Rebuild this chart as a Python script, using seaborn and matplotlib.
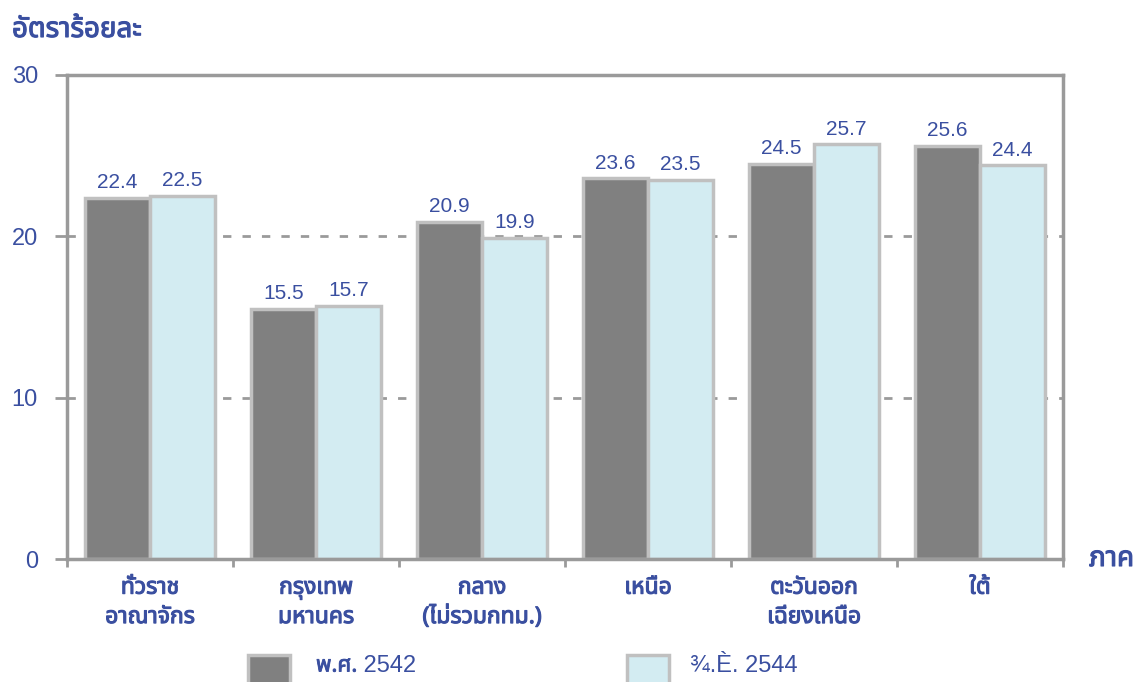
import numpy as np
import pandas as pd
import matplotlib
matplotlib.use("Agg")
import matplotlib.pyplot as plt
import matplotlib.patheffects as pe
import seaborn as sns
from matplotlib import font_manager
from matplotlib.patches import Rectangle
from matplotlib.ticker import FixedLocator

# ---------------- data ----------------
categories = ["ทั่วราช\nอาณาจักร", "กรุงเทพ\nมหานคร", "กลาง\n(ไม่รวมกทม.)",
              "เหนือ", "ตะวันออก\nเฉียงเหนือ", "ใต้"]
series_names = ["พ.ศ. 2542", "¾.È. 2544"]
values_2542 = [22.4, 15.5, 20.9, 23.6, 24.5, 25.6]
values_2544 = [22.5, 15.7, 19.9, 23.5, 25.7, 24.4]
yticks = [0, 10, 20, 30]
y_title = "อัตราร้อยละ"
x_title = "ภาค"

# ---------------- fonts ----------------
def find_thai_font():
    try:
        from fontTools.ttLib import TTFont
    except Exception:
        return None
    found = []
    for f in font_manager.fontManager.ttflist:
        try:
            tt = TTFont(f.fname, fontNumber=0, lazy=True)
            cmap = tt.getBestCmap() or {}
            if 0x0E01 in cmap and 0x0E48 in cmap:
                found.append(f.name)
        except Exception:
            pass
    if not found:
        return None
    for pref in ["Noto Sans Thai", "Noto Sans Thai UI", "Tahoma", "Loma", "Garuda", "Sarabun"]:
        if pref in found:
            return pref
    return found[0]

thai = find_thai_font()
latin = "Liberation Sans"
thai_fam = [thai, latin, "DejaVu Sans"] if thai else [latin, "DejaVu Sans"]

sns.set_theme(style="white")
plt.rcParams["font.family"] = thai_fam

blue = "#3a4fa0"
dark = "#808080"
light = "#d3ecf2"
edge = "#c0c0c0"
grey = "#9a9a9a"
bold_fx = [pe.withStroke(linewidth=0.8, foreground=blue)]
semi_fx = [pe.withStroke(linewidth=0.6, foreground=blue)]

df = pd.DataFrame({
    "region": categories * 2,
    "year": [series_names[0]] * len(categories) + [series_names[1]] * len(categories),
    "value": values_2542 + values_2544,
})

W, H = 1143, 682
fig = plt.figure(figsize=(W / 100, H / 100), dpi=100)
ax = fig.add_axes([67 / W, (H - 559) / H, (1063 - 67) / W, (559 - 75) / H])

sns.barplot(data=df, x="region", y="value", hue="year", order=categories,
            hue_order=series_names, palette=[dark, light], width=0.78,
            saturation=1, edgecolor=edge, linewidth=2.5, gap=0, legend=False,
            ax=ax, errorbar=None)

ax.set_ylim(0, 30)
ax.set_xlim(-0.5, len(categories) - 0.5)
ax.set_yticks(yticks)
ax.set_yticklabels([str(t) for t in yticks], family=latin, fontsize=17, color=blue)
ax.tick_params(axis="y", length=9, width=2, color=grey, pad=12, left=True)
ax.set_xlabel("")
ax.set_ylabel("")
ax.set_xticks(range(len(categories)))
ax.set_xticklabels(categories, fontsize=16.5, fontweight="bold", color=blue,
                   linespacing=1.3)
for lab in ax.get_xticklabels():
    lab.set_path_effects(bold_fx)
ax.tick_params(axis="x", which="major", length=0, pad=12)
ax.xaxis.set_minor_locator(FixedLocator(np.arange(-0.5, len(categories), 1.0)))
ax.tick_params(axis="x", which="minor", length=6, width=2, color=grey,
               direction="out", bottom=True)

ax.set_axisbelow(True)
for t in [10, 20]:
    ax.axhline(t, color=grey, lw=2, ls=(0, (3, 4)), zorder=0)

for s in ["left", "top", "right", "bottom"]:
    ax.spines[s].set_visible(True)
    ax.spines[s].set_color(grey)
    ax.spines[s].set_linewidth(2.5)

for cont in ax.containers:
    ax.bar_label(cont, labels=[f"{b.get_height():.1f}" for b in cont],
                 padding=4, fontsize=15, color=blue, family=latin)

fig.text(12 / W, (H - 30) / H, y_title, fontsize=20, fontweight="bold",
         color=blue, va="center", ha="left", path_effects=bold_fx)
fig.text(1089 / W, (H - 559) / H, x_title, fontsize=20, fontweight="bold",
         color=blue, va="center", ha="left", path_effects=bold_fx)

# legend (bottom, partially cut off as in reference)
legend_x = [(248, 316), (627, 690)]
ly = (H - 666) / H
renderer = fig.canvas.get_renderer()
for (rx, tx), col, name in zip(legend_x, [dark, light], series_names):
    fig.patches.append(Rectangle((rx / W, -10 / H), 42 / W, 37 / H,
                                 transform=fig.transFigure, facecolor=col,
                                 edgecolor=edge, linewidth=2.5))
    head, tail = name.split(" ", 1)
    if thai and any("\u0e00" <= c <= "\u0e7f" for c in head):
        t1 = fig.text(tx / W, ly, head, fontsize=16, color=blue, va="center",
                      ha="left", fontweight="bold", family=thai_fam,
                      path_effects=semi_fx)
        bb = t1.get_window_extent(renderer=renderer)
        fig.text(bb.x1 / W, ly, " " + tail, fontsize=17, color=blue,
                 va="center", ha="left", family=latin)
    else:
        fig.text(tx / W, ly, name, fontsize=17, color=blue,
                 va="center", ha="left", family=latin)

fig.savefig("out.png", dpi=100)
